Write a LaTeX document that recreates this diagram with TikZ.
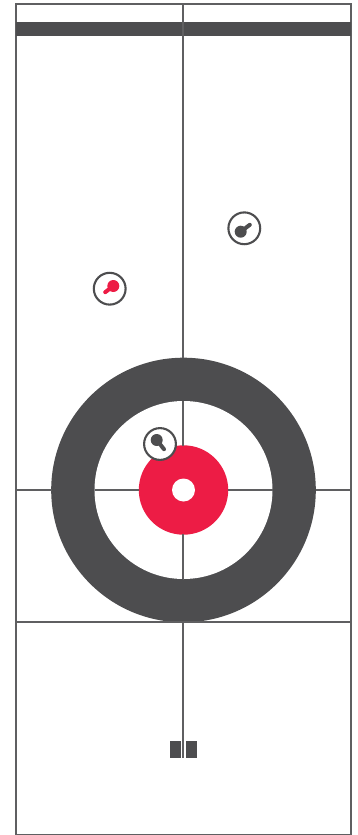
\documentclass[tikz,border=0pt]{standalone}
\definecolor{ink}{HTML}{4D4D4F}
\definecolor{redc}{HTML}{ED1C45}
\tikzset{
  rink/.style={draw=ink!90!white,line width=2.2pt},
  stonering/.style={draw=ink,line width=2.1pt,fill=white},
}
\newcommand{\stone}[7]{% ring x,y; head x,y; tip x,y; colour
  \draw[stonering] (#1,#2) circle (15.9);
  \fill[#7] (#3,#4) circle (6);
  \draw[#7,line width=4pt,line cap=round] (#3,#4) -- (#5,#6);
}
\begin{document}
\begin{tikzpicture}[x=1pt,y=-1pt]
\useasboundingbox (0,0) rectangle (358,835);
\fill[white] (0,0) rectangle (358,835);
% house
\fill[ink] (183.5,490) circle (132.3);
\fill[white] (183.5,490) circle (89);
\fill[redc] (183.5,490) circle (44.7);
\fill[white] (183.5,490) circle (11.5);
% lines
\draw[rink] (16,4) rectangle (351,835);
\fill[ink] (16,22) rectangle (351,36);
\draw[rink] (183.3,4) -- (183.3,358);
\draw[rink] (183.3,401) -- (183.3,446);
\draw[rink] (183.3,534) -- (183.3,579);
\draw[rink] (183.3,622) -- (183.3,758);
\draw[rink] (16,490) -- (51.5,490);
\draw[rink] (315.5,490) -- (351,490);
\draw[rink] (94.5,490) -- (139,490);
\draw[rink] (228,490) -- (272.5,490);
\draw[rink] (16,622.2) -- (351,622.2);
% hack
\fill[ink] (170,741) rectangle (181,758);
\fill[ink] (186,741) rectangle (197,758);
% stones
\stone{109.7}{288.7}{113.3}{286}{105.2}{292.2}{redc}
\stone{244.3}{228.3}{240.7}{231.7}{249.8}{224.8}{ink}
\stone{160}{444}{156.7}{440}{164}{449.2}{ink}
\end{tikzpicture}
\end{document}
